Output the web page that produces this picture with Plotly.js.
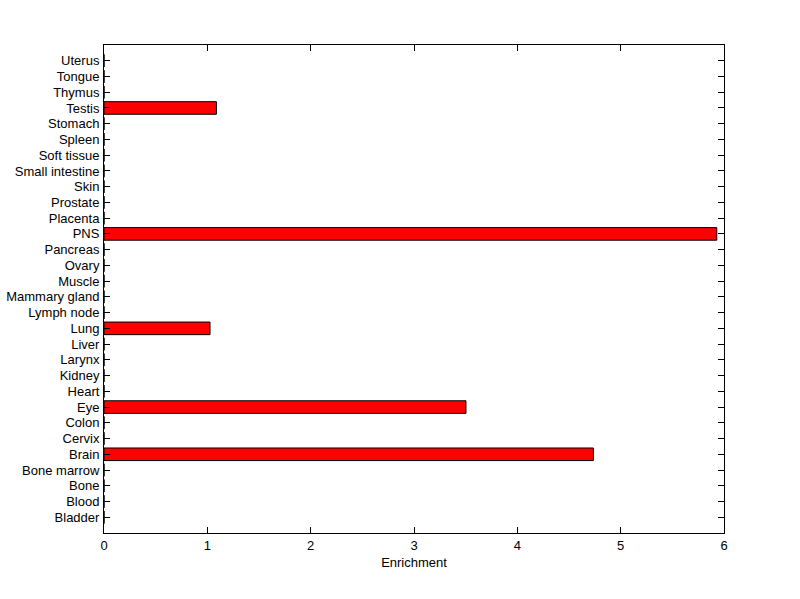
<!DOCTYPE html>
<html>
<head>
<meta charset="utf-8">
<script src="https://cdn.plot.ly/plotly-3.0.1.min.js"></script>
<style>html,body{margin:0;padding:0;background:#fff;}#chart{width:800px;height:599px;}</style>
</head>
<body>
<div id="chart"></div>
<script>
const tissues = ["Bladder","Blood","Bone","Bone marrow","Brain","Cervix","Colon","Eye","Heart","Kidney","Larynx","Liver","Lung","Lymph node","Mammary gland","Muscle","Ovary","Pancreas","PNS","Placenta","Prostate","Skin","Small intestine","Soft tissue","Spleen","Stomach","Testis","Thymus","Tongue","Uterus"];
const enrichment = [0,0,0,0,4.736,0,0,3.503,0,0,0,0,1.026,0,0,0,0,0,5.93,0,0,0,0,0,0,0,1.088,0,0,0];
const xTicks = [0,1,2,3,4,5,6];

const trace = {
  type: 'bar',
  orientation: 'h',
  x: enrichment,
  y: tissues,
  width: 0.8,
  marker: {color: '#ff0000', line: {color: '#000000', width: 1}},
  hoverinfo: 'x+y'
};

const layout = {
  width: 800, height: 599,
  margin: {l: 104, r: 76, t: 45, b: 66},
  paper_bgcolor: '#ffffff', plot_bgcolor: '#ffffff',
  font: {family: 'Liberation Sans, Arial, sans-serif', size: 12, color: '#000'},
  showlegend: false,
  bargap: 0.2,
  xaxis: {
    range: [0, 6], tickmode: 'array', tickvals: xTicks, ticktext: xTicks.map(String),
    ticks: 'inside', ticklen: 6, tickcolor: '#000', tickwidth: 1,
    showline: true, linecolor: '#000', linewidth: 1, mirror: 'ticks',
    showgrid: false, zeroline: false,
    title: {text: 'Enrichment', font: {size: 13}, standoff: 6},
    tickfont: {size: 13}
  },
  yaxis: {
    type: 'category', categoryorder: 'array', categoryarray: tissues,
    tickmode: 'array', tickvals: tissues, ticktext: tissues,
    range: [-1, 30],
    ticks: 'inside', ticklen: 6, tickcolor: '#000', tickwidth: 1,
    showline: true, linecolor: '#000', linewidth: 1, mirror: 'ticks',
    showgrid: false, zeroline: false,
    ticklabelstandoff: 1,
    tickfont: {size: 13}
  }
};

Plotly.newPlot('chart', [trace], layout, {displayModeBar: false, staticPlot: true});
</script>
</body>
</html>
